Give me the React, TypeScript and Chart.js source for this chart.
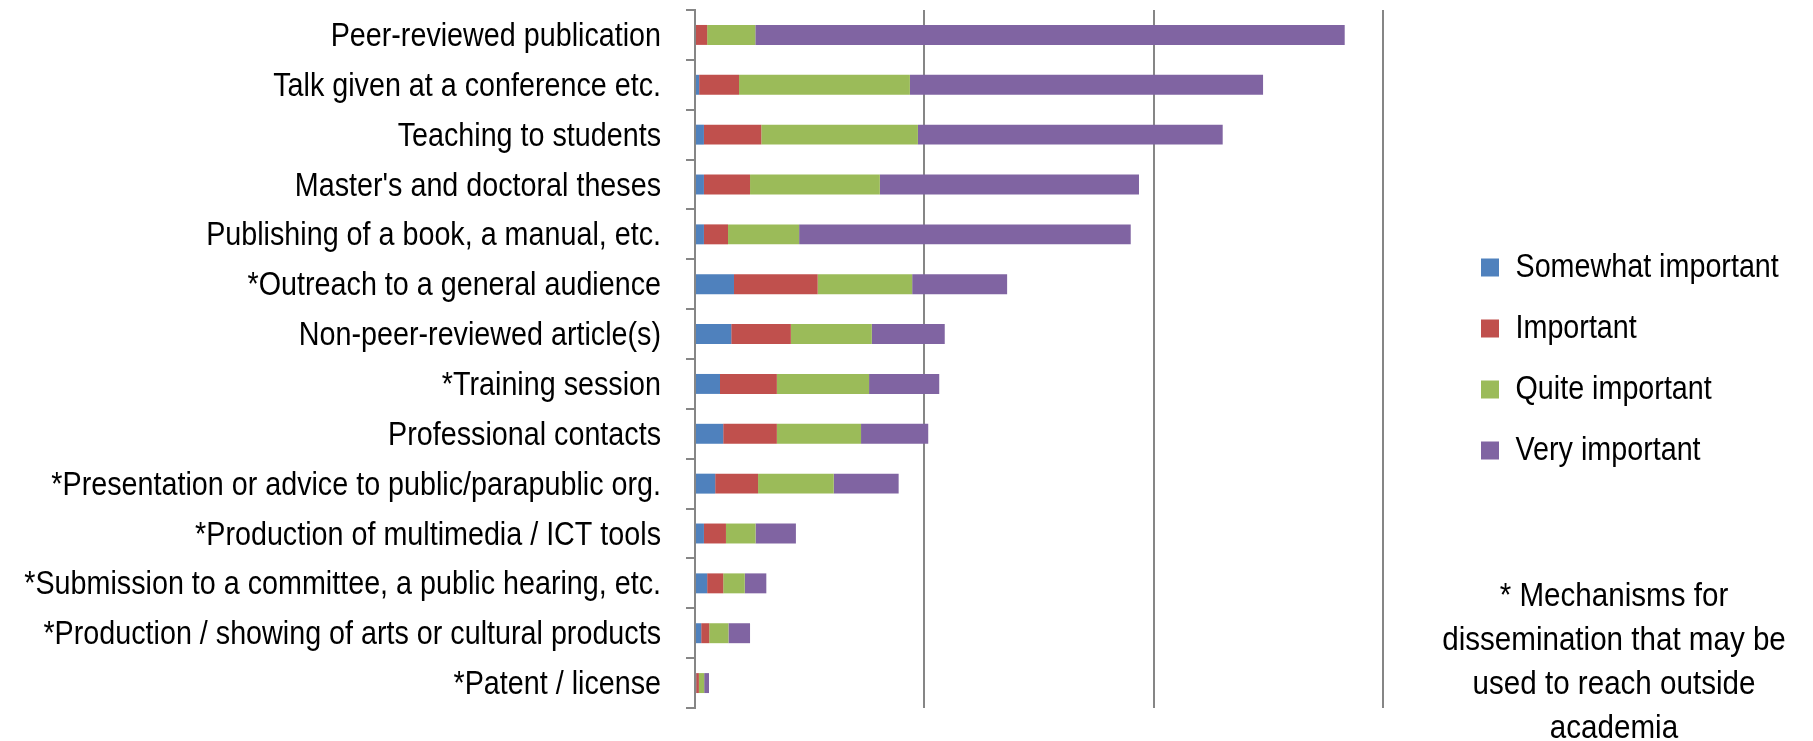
import React, { useEffect, useRef } from "react";
import { Chart, registerables } from "chart.js";

Chart.register(...registerables);

const categories = [
  "Peer-reviewed publication",
  "Talk given at a conference etc.",
  "Teaching to students",
  "Master's and doctoral theses",
  "Publishing of a book, a manual, etc.",
  "*Outreach to a general audience",
  "Non-peer-reviewed article(s)",
  "*Training session",
  "Professional contacts",
  "*Presentation or advice to public/parapublic org.",
  "*Production of multimedia / ICT tools",
  "*Submission to a committee, a public hearing, etc.",
  "*Production / showing of arts or cultural products",
  "*Patent / license",
];

const seriesNames = ["Somewhat important", "Important", "Quite important", "Very important"];
const seriesColors = ["#4F81BD", "#C0504D", "#9BBB59", "#8064A2"];

const somewhatImportant = [0, 1.8, 3.9, 3.9, 3.9, 17, 15.8, 10.9, 12.3, 8.8, 3.9, 5.3, 2.7, 0.5];
const important = [5.3, 17.4, 25, 20.1, 10.5, 36.5, 26, 24.8, 23.4, 18.7, 9.6, 7, 3.5, 1.2];
const quiteImportant = [21, 74.5, 68.3, 56.6, 31, 41.2, 35.3, 40.2, 36.7, 33, 12.9, 9.4, 8.4, 2.3];
const veryImportant = [257, 154, 132.9, 113, 144.6, 41.4, 31.8, 30.6, 29.3, 28.3, 17.6, 9.4, 9.4, 2.1];

const xMax = 300;
const xStep = 100;

const noteLines = ["* Mechanisms for", "dissemination that may be", "used to reach outside", "academia"];

const FONT = '"Liberation Sans", Arial, sans-serif';
const FONT_SIZE = 33;
const NOTE_FONT_SIZE = 34;
const NARROW = 0.87; // horizontal squeeze to mimic a narrow sans face
const W = 1813;
const H = 741;

function narrowContext(ctx: any) {
  if (ctx.__narrow) return;
  ctx.__narrow = true;
  const origFill = ctx.fillText;
  const origMeasure = ctx.measureText;
  ctx.fillText = function (text: string, x: number, y: number, maxWidth?: number) {
    this.save();
    this.translate(x, y);
    this.scale(NARROW, 1);
    if (maxWidth === undefined || maxWidth === null) origFill.call(this, text, 0, 0);
    else origFill.call(this, text, 0, 0, maxWidth / NARROW);
    this.restore();
  };
  ctx.measureText = function (text: string) {
    const m = origMeasure.call(this, text);
    return {
      width: m.width * NARROW,
      actualBoundingBoxLeft: m.actualBoundingBoxLeft * NARROW,
      actualBoundingBoxRight: m.actualBoundingBoxRight * NARROW,
      actualBoundingBoxAscent: m.actualBoundingBoxAscent,
      actualBoundingBoxDescent: m.actualBoundingBoxDescent,
      fontBoundingBoxAscent: m.fontBoundingBoxAscent,
      fontBoundingBoxDescent: m.fontBoundingBoxDescent,
    };
  };
}

export default function App() {
  const ref = useRef<HTMLCanvasElement | null>(null);

  useEffect(() => {
    const canvas = ref.current;
    if (!canvas) return;
    const ctx = canvas.getContext("2d")!;
    narrowContext(ctx);

    const mctx = document.createElement("canvas").getContext("2d")!;
    mctx.font = `${FONT_SIZE}px ${FONT}`;
    const tw = Math.max(...seriesNames.map((n) => mctx.measureText(n).width)) * NARROW;
    const legendPad = 28;
    const boxW = 18;
    // Chart.js adds 10px to the width of a vertical legend
    const legendW = legendPad + boxW + FONT_SIZE / 2 + tw + 10;
    const legendLeft = 1453;
    const padRight = Math.max(0, W - legendLeft - legendW);

    const notePlugin = {
      id: "note",
      afterDraw(chart: any) {
        const c = chart.ctx;
        c.save();
        c.font = `${NOTE_FONT_SIZE}px ${FONT}`;
        c.fillStyle = "#000";
        c.textAlign = "center";
        c.textBaseline = "alphabetic";
        noteLines.forEach((l, i) => c.fillText(l, 1614, 606 + i * 44));
        c.restore();
      },
    };

    const seriesData = [somewhatImportant, important, quiteImportant, veryImportant];

    const chart = new Chart(canvas, {
      type: "bar",
      data: {
        labels: categories,
        datasets: seriesNames.map((name, i) => ({
          label: name,
          data: seriesData[i],
          backgroundColor: seriesColors[i],
          borderWidth: 0,
          barPercentage: 0.4,
          categoryPercentage: 1,
          yAxisID: "y",
        })),
      },
      options: {
        indexAxis: "y",
        responsive: false,
        animation: false,
        layout: { padding: { top: 10, bottom: 33, left: 0, right: padRight } },
        plugins: {
          tooltip: { enabled: false },
          legend: {
            display: true,
            position: "right",
            align: "center",
            maxWidth: 1000,
            labels: {
              boxWidth: boxW,
              boxHeight: boxW,
              padding: legendPad,
              color: "#000",
              font: { family: FONT, size: FONT_SIZE },
            },
          },
        },
        scales: {
          x: {
            type: "linear",
            stacked: true,
            min: 0,
            max: xMax,
            ticks: { display: false, stepSize: xStep },
            grid: { color: "#868686", lineWidth: 2, drawTicks: false },
            border: { display: false },
          },
          y: {
            type: "category",
            stacked: true,
            position: "left",
            afterFit: (s: any) => {
              s.width = 695;
              s.paddingTop = 0;
              s.paddingBottom = 0;
            },
            ticks: {
              color: "#000",
              padding: 25,
              autoSkip: false,
              labelOffset: 2,
              font: { family: FONT, size: FONT_SIZE },
            },
            grid: {
              drawOnChartArea: false,
              drawTicks: true,
              tickLength: 9,
              color: "#868686",
              lineWidth: 2,
            },
            border: { display: true, color: "#868686", width: 2 },
          },
          y2: {
            type: "category",
            position: "right",
            display: true,
            afterFit: (s: any) => {
              s.width = legendLeft - 1383;
              s.paddingTop = 0;
              s.paddingBottom = 0;
            },
            ticks: { display: false },
            grid: { display: false },
            border: { display: false },
          },
        },
      } as any,
      plugins: [notePlugin],
    });
    return () => chart.destroy();
  }, []);

  return (
    <div style={{ position: "fixed", left: 0, top: 0, width: W, height: H, background: "#fff" }}>
      <canvas ref={ref} width={W} height={H} style={{ display: "block" }} />
    </div>
  );
}
